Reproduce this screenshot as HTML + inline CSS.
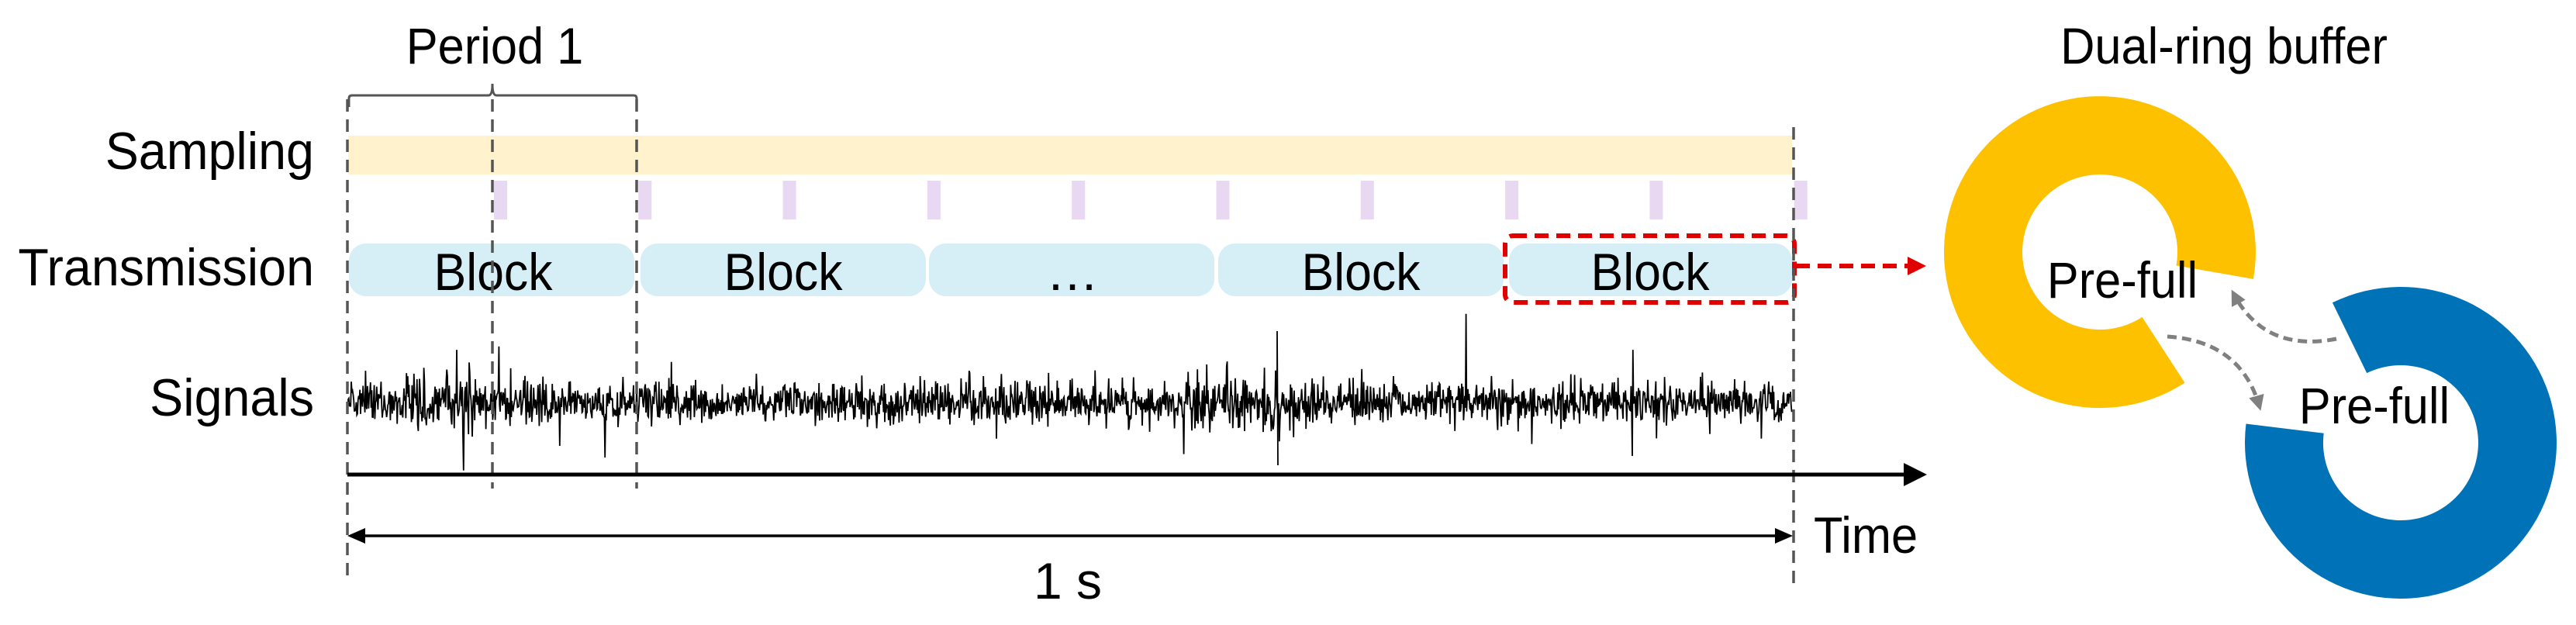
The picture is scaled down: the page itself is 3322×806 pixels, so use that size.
<!DOCTYPE html>
<html><head><meta charset="utf-8"><style>
html,body{margin:0;padding:0;background:#fff}
svg{display:block}
text{font-family:"Liberation Sans",Arial,sans-serif;fill:#000}
</style></head><body>
<svg id="s" width="3322" height="806" viewBox="0 0 3322 806" xmlns="http://www.w3.org/2000/svg">
<defs>
<marker id="ab" markerWidth="6" markerHeight="6" refX="5" refY="3" orient="auto" markerUnits="strokeWidth"><path d="M0,0 L6,3 L0,6 z" fill="#000"/></marker>
<marker id="ar" markerWidth="4" markerHeight="4" refX="3" refY="2" orient="auto" markerUnits="strokeWidth"><path d="M0,0 L4,2 L0,4 z" fill="#e00000"/></marker>
<marker id="ag" markerWidth="4" markerHeight="4" refX="3" refY="2" orient="auto" markerUnits="strokeWidth"><path d="M0,0 L4,2 L0,4 z" fill="#808080"/></marker>
</defs>
<rect x="449" y="175" width="1862" height="50" fill="#fff2cc"/>
<g id="ticks" fill="#e8d8f2"></g>
<g fill="#d6eef6">
<rect x="450" y="314" width="368" height="68" rx="22"/>
<rect x="826" y="314" width="368" height="68" rx="22"/>
<rect x="1198" y="314" width="368" height="68" rx="22"/>
<rect x="1571" y="314" width="368" height="68" rx="22"/>
<rect x="1946" y="314" width="365" height="68" rx="22"/>
</g>
<g font-size="68" text-anchor="middle">
<text x="636" y="374" transform="translate(636,0) scale(0.92,1) translate(-636,0)">Block</text>
<text x="1010" y="374" transform="translate(1010,0) scale(0.92,1) translate(-1010,0)">Block</text>
<text x="1383" y="374">…</text>
<text x="1755" y="374" transform="translate(1755,0) scale(0.92,1) translate(-1755,0)">Block</text>
<text x="2128" y="374" transform="translate(2128,0) scale(0.92,1) translate(-2128,0)">Block</text>
</g>
<rect x="1941" y="304" width="373" height="86" rx="10" fill="none" stroke="#e00000" stroke-width="6" stroke-dasharray="18,10"/>
<line x1="2316" y1="343" x2="2478" y2="343" stroke="#e00000" stroke-width="6" stroke-dasharray="18,10" marker-end="url(#ar)"/>
<g font-size="68" text-anchor="end">
<text x="405" y="218" transform="translate(405,0) scale(0.95,1) translate(-405,0)">Sampling</text>
<text x="405" y="368" transform="translate(405,0) scale(0.95,1) translate(-405,0)">Transmission</text>
<text x="405" y="536" transform="translate(405,0) scale(0.95,1) translate(-405,0)">Signals</text>
</g>
<text x="638" y="82" font-size="66" text-anchor="middle" transform="translate(638,0) scale(0.93,1) translate(-638,0)">Period 1</text>
<path d="M450,138 L450,127 Q450,123 454,123 L630,123 Q635,123 635,108 Q635,123 640,123 L817,123 Q821,123 821,127 L821,138" fill="none" stroke="#555" stroke-width="3"/>
<path id="sig" fill="none" stroke="#000" stroke-width="1.8"/>
<g stroke="#555" stroke-width="3.5" stroke-dasharray="16,10" fill="none">
<line x1="448" y1="128" x2="448" y2="745"/>
<line x1="635" y1="128" x2="635" y2="630"/>
<line x1="821" y1="128" x2="821" y2="630"/>
<line x1="2313" y1="164" x2="2313" y2="753"/>
</g>
<line x1="448" y1="612" x2="2480" y2="612" stroke="#000" stroke-width="5" marker-end="url(#ab)"/>
<line x1="462" y1="691" x2="2300" y2="691" stroke="#000" stroke-width="3.5"/>
<path d="M448,691 L471,681 L471,701 z" fill="#000"/>
<path d="M2312,691 L2289,681 L2289,701 z" fill="#000"/>
<text x="2339" y="713" font-size="66" transform="translate(2339,0) scale(0.93,1) translate(-2339,0)">Time</text>
<text x="1377" y="772" font-size="66" text-anchor="middle">1 s</text>
<text x="2868" y="82" font-size="66" text-anchor="middle" transform="translate(2868,0) scale(0.93,1) translate(-2868,0)">Dual-ring buffer</text>
<path id="r1" fill="#fdc100"/>
<path id="r2" fill="#0072b8"/>
<text x="2737" y="384" font-size="66" text-anchor="middle" transform="translate(2737,0) scale(0.93,1) translate(-2737,0)">Pre-full</text>
<text x="3062" y="546" font-size="66" text-anchor="middle" transform="translate(3062,0) scale(0.93,1) translate(-3062,0)">Pre-full</text>
<g stroke="#808080" stroke-width="5" stroke-dasharray="12,7" fill="none">
<path d="M3013,437 Q2920,455 2880,378" marker-end="url(#ag)"/>
<path d="M2795,434 Q2890,440 2914,525" marker-end="url(#ag)"/>
</g>
</svg>
<script>
(function(){
var NS="http://www.w3.org/2000/svg";
var t=document.getElementById('ticks');
for(var i=0;i<10;i++){var r=document.createElementNS(NS,'rect');r.setAttribute('x',637+i*186.3);r.setAttribute('y',233);r.setAttribute('width',17);r.setAttribute('height',50);t.appendChild(r);}
var seed=12345;function rnd(){seed=(seed*1103515245+12345)%2147483648;return seed/2147483648;}
function gauss(){var u=rnd()||1e-9,v=rnd();return Math.sqrt(-2*Math.log(u))*Math.cos(6.2832*v);}
var d="M449,519";
for(var x=449;x<=2311;x+=0.8){
 var env=1;
 if(x>520&&x<620)env=1.5; if(x>1100&&x<1180)env=1.2; if(x>1520&&x<1650)env=1.35;
 var a=gauss()*13*env;
 if(rnd()<0.02)a*=2.6;
 if(rnd()<0.003)a=(rnd()<0.5?-1:1)*(50+rnd()*25);
 d+=" L"+x.toFixed(1)+","+(519+a).toFixed(1);
}
document.getElementById('sig').setAttribute('d',d);
var sp=document.createElementNS(NS,'path');sp.setAttribute('d','M1647,519 L1647,427 L1648,600');sp.setAttribute('stroke','#000');sp.setAttribute('stroke-width','1.8');sp.setAttribute('fill','none');document.getElementById('s').appendChild(sp);
function ring(cx,cy,R,r,a0,a1){
 var k=Math.PI/180;function p(rr,a){return (cx+rr*Math.cos(a*k)).toFixed(1)+","+(cy+rr*Math.sin(a*k)).toFixed(1);}
 var large=(a1-a0)>180?1:0;
 return "M"+p(R,a0)+" A"+R+","+R+" 0 "+large+" 1 "+p(R,a1)+" L"+p(r,a1)+" A"+r+","+r+" 0 "+large+" 0 "+p(r,a0)+" Z";
}
document.getElementById('r1').setAttribute('d',ring(2708,325,201,100,57,370));
document.getElementById('r2').setAttribute('d',ring(3096,571,201,100,244,547));
})();
</script>
</body></html>
